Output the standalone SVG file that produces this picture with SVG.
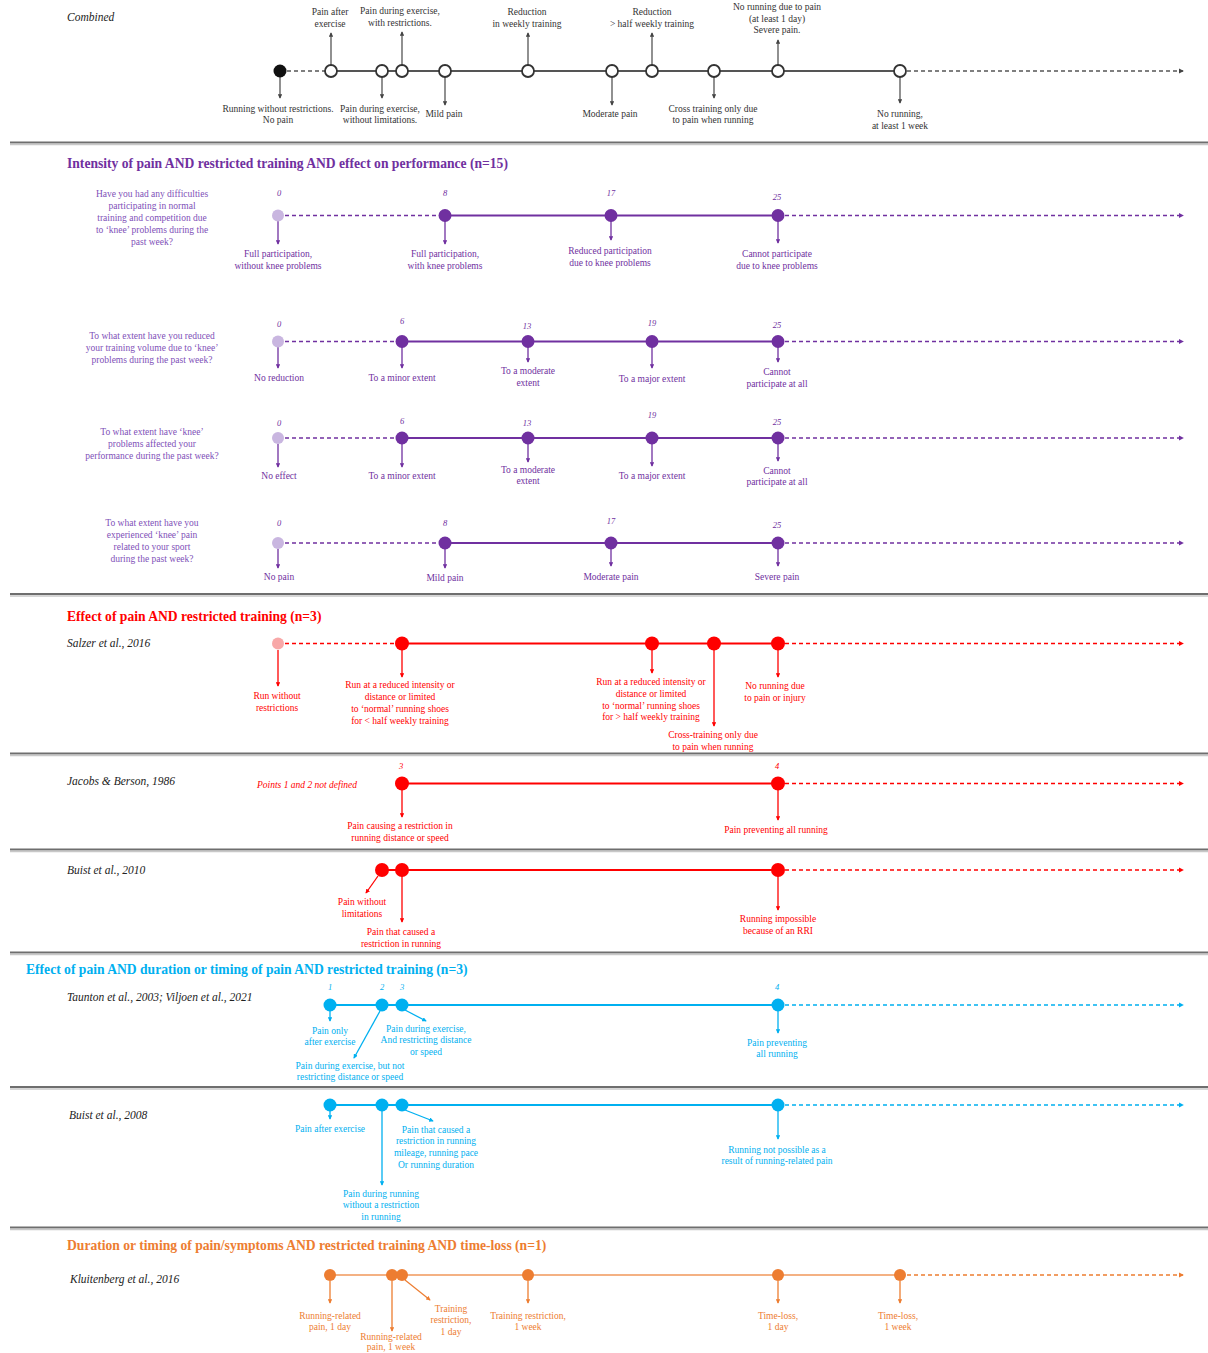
<svg xmlns="http://www.w3.org/2000/svg" width="1208" height="1353" viewBox="0 0 1208 1353">
<style>
text{font-family:"Liberation Serif","Times New Roman",serif}
.l{font-size:9.5px;text-anchor:middle}
.q{font-size:9.5px;text-anchor:middle;fill:#8050B8}
.n{font-size:8.5px;font-style:italic;text-anchor:middle}
.h{font-size:13.6px;font-weight:bold}
.s{font-size:11.5px;font-style:italic;fill:#222}
.k{fill:#333}.p{fill:#7030A0}.r{fill:#FF0000}.b{fill:#00B0F0}.o{fill:#ED7D31}
.sk{stroke:#555}.sp{stroke:#7030A0}.sr{stroke:#FF0000}.sb{stroke:#00B0F0}.so{stroke:#ED7D31}
.ln{stroke-width:2;fill:none}
.ds{stroke-width:1.5;stroke-dasharray:4 3;fill:none}
.ar{stroke-width:1.3;fill:none}
.sep1{stroke:#6e6e6e;stroke-width:2}
.sep2{stroke:#c8c8c8;stroke-width:1.5}
.hol{fill:#fff;stroke:#333;stroke-width:1.8}
</style>
<defs>
<marker id="mk" viewBox="0 0 6 6" refX="5" refY="3" markerWidth="3.5" markerHeight="3.5" orient="auto"><path d="M0,0 L6,3 L0,6 z" fill="#444"/></marker>
<marker id="mp" viewBox="0 0 6 6" refX="5" refY="3" markerWidth="3.5" markerHeight="3.5" orient="auto"><path d="M0,0 L6,3 L0,6 z" fill="#7030A0"/></marker>
<marker id="mr" viewBox="0 0 6 6" refX="5" refY="3" markerWidth="3.5" markerHeight="3.5" orient="auto"><path d="M0,0 L6,3 L0,6 z" fill="#FF0000"/></marker>
<marker id="mb" viewBox="0 0 6 6" refX="5" refY="3" markerWidth="3.5" markerHeight="3.5" orient="auto"><path d="M0,0 L6,3 L0,6 z" fill="#00B0F0"/></marker>
<marker id="mo" viewBox="0 0 6 6" refX="5" refY="3" markerWidth="3.5" markerHeight="3.5" orient="auto"><path d="M0,0 L6,3 L0,6 z" fill="#ED7D31"/></marker>
</defs>
<rect width="1208" height="1353" fill="#fff"/>

<!-- section dividers -->
<g id="dividers">
<line class="sep1" x1="10" y1="142.5" x2="1208" y2="142.5"/><line class="sep2" x1="10" y1="144.5" x2="1208" y2="144.5"/>
<line class="sep1" x1="10" y1="594" x2="1208" y2="594"/><line class="sep2" x1="10" y1="596" x2="1208" y2="596"/>
<line class="sep1" x1="10" y1="753.5" x2="1208" y2="753.5"/><line class="sep2" x1="10" y1="755.5" x2="1208" y2="755.5"/>
<line class="sep1" x1="10" y1="849.5" x2="1208" y2="849.5"/><line class="sep2" x1="10" y1="851.5" x2="1208" y2="851.5"/>
<line class="sep1" x1="10" y1="952.5" x2="1208" y2="952.5"/><line class="sep2" x1="10" y1="954.5" x2="1208" y2="954.5"/>
<line class="sep1" x1="10" y1="1087" x2="1208" y2="1087"/><line class="sep2" x1="10" y1="1089" x2="1208" y2="1089"/>
<line class="sep1" x1="10" y1="1227.5" x2="1208" y2="1227.5"/><line class="sep2" x1="10" y1="1229.5" x2="1208" y2="1229.5"/>
</g>

<!-- headings and row captions -->
<g id="headings">
<text class="s" x="67" y="21">Combined</text>
<text class="h p" x="67" y="168">Intensity of pain AND restricted training AND effect on performance (n=15)</text>
<text class="h r" x="67" y="621">Effect of pain AND restricted training (n=3)</text>
<text class="s" x="67" y="647">Salzer et al., 2016</text>
<text class="s" x="67" y="784.5">Jacobs &amp; Berson, 1986</text>
<text class="l r" x="307" y="788" style="font-style:italic">Points 1 and 2 not defined</text>
<text class="s" x="67" y="874">Buist et al., 2010</text>
<text class="h b" x="26" y="974">Effect of pain AND duration or timing of pain AND restricted training (n=3)</text>
<text class="s" x="67" y="1001">Taunton et al., 2003; Viljoen et al., 2021</text>
<text class="s" x="69" y="1119">Buist et al., 2008</text>
<text class="h o" x="67" y="1250">Duration or timing of pain/symptoms AND restricted training AND time-loss (n=1)</text>
<text class="s" x="70" y="1283">Kluitenberg et al., 2016</text>
</g>

<g id="questions">
<text class="q" x="152" y="197"><tspan x="152">Have you had any difficulties</tspan><tspan x="152" dy="12">participating in normal</tspan><tspan x="152" dy="12">training and competition due</tspan><tspan x="152" dy="12">to ‘knee’ problems during the</tspan><tspan x="152" dy="12">past week?</tspan></text>
<text class="q" x="152" y="338.5"><tspan x="152">To what extent have you reduced</tspan><tspan x="152" dy="12">your training volume due to ‘knee’</tspan><tspan x="152" dy="12">problems during the past week?</tspan></text>
<text class="q" x="152" y="434.5"><tspan x="152">To what extent have ‘knee’</tspan><tspan x="152" dy="12">problems affected your</tspan><tspan x="152" dy="12">performance during the past week?</tspan></text>
<text class="q" x="152" y="525.5"><tspan x="152">To what extent have you</tspan><tspan x="152" dy="12">experienced ‘knee’ pain</tspan><tspan x="152" dy="12">related to your sport</tspan><tspan x="152" dy="12">during the past week?</tspan></text>
</g>

<!-- timelines and pointer lines -->
<g id="connectors">
<!-- combined -->
<line class="sk ds" x1="280" y1="71" x2="331" y2="71"/>
<line class="sk ln" x1="331" y1="71" x2="900" y2="71"/>
<line class="sk ds" x1="900" y1="71" x2="1183" y2="71" marker-end="url(#mk)"/>
<line class="sk ar" x1="331" y1="65" x2="331" y2="33" marker-end="url(#mk)"/>
<line class="sk ar" x1="402" y1="65" x2="402" y2="32" marker-end="url(#mk)"/>
<line class="sk ar" x1="528" y1="65" x2="528" y2="33" marker-end="url(#mk)"/>
<line class="sk ar" x1="652" y1="65" x2="652" y2="33" marker-end="url(#mk)"/>
<line class="sk ar" x1="778" y1="65" x2="778" y2="40" marker-end="url(#mk)"/>
<line class="sk ar" x1="280" y1="77" x2="280" y2="98" marker-end="url(#mk)"/>
<line class="sk ar" x1="382" y1="77" x2="382" y2="98" marker-end="url(#mk)"/>
<line class="sk ar" x1="445" y1="77" x2="445" y2="105" marker-end="url(#mk)"/>
<line class="sk ar" x1="612" y1="77" x2="612" y2="105" marker-end="url(#mk)"/>
<line class="sk ar" x1="714" y1="77" x2="714" y2="98" marker-end="url(#mk)"/>
<line class="sk ar" x1="900" y1="77" x2="900" y2="103" marker-end="url(#mk)"/>
<!-- purple row 1 -->
<line class="sp ds" x1="278" y1="215.5" x2="445" y2="215.5"/>
<line class="sp ln" x1="445" y1="215.5" x2="778" y2="215.5"/>
<line class="sp ds" x1="778" y1="215.5" x2="1183" y2="215.5" marker-end="url(#mp)"/>
<line class="sp ar" x1="278" y1="221" x2="278" y2="244" marker-end="url(#mp)"/>
<line class="sp ar" x1="445" y1="221" x2="445" y2="244" marker-end="url(#mp)"/>
<line class="sp ar" x1="611" y1="221" x2="611" y2="240" marker-end="url(#mp)"/>
<line class="sp ar" x1="778" y1="221" x2="778" y2="243" marker-end="url(#mp)"/>
<!-- purple row 2 -->
<line class="sp ds" x1="278" y1="341.5" x2="402" y2="341.5"/>
<line class="sp ln" x1="402" y1="341.5" x2="778" y2="341.5"/>
<line class="sp ds" x1="778" y1="341.5" x2="1183" y2="341.5" marker-end="url(#mp)"/>
<line class="sp ar" x1="278" y1="347" x2="278" y2="368" marker-end="url(#mp)"/>
<line class="sp ar" x1="402" y1="347" x2="402" y2="368" marker-end="url(#mp)"/>
<line class="sp ar" x1="528" y1="347" x2="528" y2="362" marker-end="url(#mp)"/>
<line class="sp ar" x1="652" y1="347" x2="652" y2="368" marker-end="url(#mp)"/>
<line class="sp ar" x1="778" y1="347" x2="778" y2="362" marker-end="url(#mp)"/>
<!-- purple row 3 -->
<line class="sp ds" x1="278" y1="438" x2="402" y2="438"/>
<line class="sp ln" x1="402" y1="438" x2="778" y2="438"/>
<line class="sp ds" x1="778" y1="438" x2="1183" y2="438" marker-end="url(#mp)"/>
<line class="sp ar" x1="278" y1="444" x2="278" y2="467" marker-end="url(#mp)"/>
<line class="sp ar" x1="402" y1="444" x2="402" y2="467" marker-end="url(#mp)"/>
<line class="sp ar" x1="528" y1="444" x2="528" y2="462" marker-end="url(#mp)"/>
<line class="sp ar" x1="652" y1="444" x2="652" y2="466" marker-end="url(#mp)"/>
<line class="sp ar" x1="778" y1="444" x2="778" y2="461" marker-end="url(#mp)"/>
<!-- purple row 4 -->
<line class="sp ds" x1="278" y1="543" x2="445" y2="543"/>
<line class="sp ln" x1="445" y1="543" x2="778" y2="543"/>
<line class="sp ds" x1="778" y1="543" x2="1183" y2="543" marker-end="url(#mp)"/>
<line class="sp ar" x1="278" y1="549" x2="278" y2="568" marker-end="url(#mp)"/>
<line class="sp ar" x1="445" y1="549" x2="445" y2="568" marker-end="url(#mp)"/>
<line class="sp ar" x1="611" y1="549" x2="611" y2="566" marker-end="url(#mp)"/>
<line class="sp ar" x1="778" y1="549" x2="778" y2="566" marker-end="url(#mp)"/>
<!-- Salzer -->
<line class="sr ds" x1="278" y1="643.5" x2="402" y2="643.5"/>
<line class="sr ln" x1="402" y1="643.5" x2="778" y2="643.5"/>
<line class="sr ds" x1="778" y1="643.5" x2="1183" y2="643.5" marker-end="url(#mr)"/>
<line class="sr ar" x1="278" y1="650" x2="278" y2="686" marker-end="url(#mr)"/>
<line class="sr ar" x1="402" y1="650" x2="402" y2="677" marker-end="url(#mr)"/>
<line class="sr ar" x1="652" y1="650" x2="652" y2="673" marker-end="url(#mr)"/>
<line class="sr ar" x1="714" y1="650" x2="714" y2="726" marker-end="url(#mr)"/>
<line class="sr ar" x1="778" y1="650" x2="778" y2="677" marker-end="url(#mr)"/>
<!-- Jacobs & Berson -->
<line class="sr ln" x1="402" y1="783.5" x2="778" y2="783.5"/>
<line class="sr ds" x1="778" y1="783.5" x2="1183" y2="783.5" marker-end="url(#mr)"/>
<line class="sr ar" x1="402" y1="790" x2="402" y2="817" marker-end="url(#mr)"/>
<line class="sr ar" x1="778" y1="790" x2="778" y2="820" marker-end="url(#mr)"/>
<!-- Buist 2010 -->
<line class="sr ln" x1="382" y1="870" x2="778" y2="870"/>
<line class="sr ds" x1="778" y1="870" x2="1183" y2="870" marker-end="url(#mr)"/>
<line class="sr ar" x1="378" y1="876" x2="366" y2="893" marker-end="url(#mr)"/>
<line class="sr ar" x1="402" y1="876" x2="402" y2="922" marker-end="url(#mr)"/>
<line class="sr ar" x1="778" y1="876" x2="778" y2="910" marker-end="url(#mr)"/>
<!-- Taunton / Viljoen -->
<line class="sb ln" x1="330" y1="1005" x2="778" y2="1005"/>
<line class="sb ds" x1="778" y1="1005" x2="1183" y2="1005" marker-end="url(#mb)"/>
<line class="sb ar" x1="330" y1="1011" x2="330" y2="1021" marker-end="url(#mb)"/>
<line class="sb ar" x1="405" y1="1010" x2="426" y2="1021" marker-end="url(#mb)"/>
<line class="sb ar" x1="380" y1="1011" x2="354" y2="1058" marker-end="url(#mb)"/>
<line class="sb ar" x1="778" y1="1011" x2="778" y2="1033" marker-end="url(#mb)"/>
<!-- Buist 2008 -->
<line class="sb ln" x1="330" y1="1105" x2="778" y2="1105"/>
<line class="sb ds" x1="778" y1="1105" x2="1183" y2="1105" marker-end="url(#mb)"/>
<line class="sb ar" x1="330" y1="1111" x2="330" y2="1119" marker-end="url(#mb)"/>
<line class="sb ar" x1="405" y1="1110" x2="433" y2="1121" marker-end="url(#mb)"/>
<line class="sb ar" x1="382" y1="1111" x2="382" y2="1185" marker-end="url(#mb)"/>
<line class="sb ar" x1="778" y1="1111" x2="778" y2="1139" marker-end="url(#mb)"/>
<!-- Kluitenberg -->
<line class="ln" stroke="#F4B183" x1="330" y1="1275" x2="900" y2="1275"/>
<line class="so ds" x1="900" y1="1275" x2="1183" y2="1275" marker-end="url(#mo)"/>
<line class="so ar" x1="330" y1="1281" x2="330" y2="1303" marker-end="url(#mo)"/>
<line class="so ar" x1="392" y1="1281" x2="392" y2="1331" marker-end="url(#mo)"/>
<line class="so ar" x1="405" y1="1280" x2="430" y2="1300" marker-end="url(#mo)"/>
<line class="so ar" x1="528" y1="1281" x2="528" y2="1303" marker-end="url(#mo)"/>
<line class="so ar" x1="778" y1="1281" x2="778" y2="1303" marker-end="url(#mo)"/>
<line class="so ar" x1="900" y1="1281" x2="900" y2="1303" marker-end="url(#mo)"/>
</g>

<!-- combined scale -->
<g id="c-run-free"><circle cx="280" cy="71" r="6.5" fill="#111"/><text class="l k" x="278" y="111.5"><tspan x="278">Running without restrictions.</tspan><tspan x="278" dy="11.7">No pain</tspan></text></g>
<g id="c-pain-after"><circle class="hol" cx="331" cy="71" r="6"/><text class="l k" x="330" y="15"><tspan x="330">Pain after</tspan><tspan x="330" dy="12">exercise</tspan></text></g>
<g id="c-pain-nolimit"><circle class="hol" cx="382" cy="71" r="6"/><text class="l k" x="380" y="111.5"><tspan x="380">Pain during exercise,</tspan><tspan x="380" dy="11.7">without limitations.</tspan></text></g>
<g id="c-pain-restrict"><circle class="hol" cx="402" cy="71" r="6"/><text class="l k" x="400" y="13.5"><tspan x="400">Pain during exercise,</tspan><tspan x="400" dy="12">with restrictions.</tspan></text></g>
<g id="c-mild"><circle class="hol" cx="445" cy="71" r="6"/><text class="l k" x="444" y="116.5">Mild pain</text></g>
<g id="c-reduction"><circle class="hol" cx="528" cy="71" r="6"/><text class="l k" x="527" y="15"><tspan x="527">Reduction</tspan><tspan x="527" dy="12">in weekly training</tspan></text></g>
<g id="c-moderate"><circle class="hol" cx="612" cy="71" r="6"/><text class="l k" x="610" y="116.5">Moderate pain</text></g>
<g id="c-half"><circle class="hol" cx="652" cy="71" r="6"/><text class="l k" x="652" y="15"><tspan x="652">Reduction</tspan><tspan x="652" dy="12">&gt; half weekly training</tspan></text></g>
<g id="c-cross"><circle class="hol" cx="714" cy="71" r="6"/><text class="l k" x="713" y="111.5"><tspan x="713">Cross training only due</tspan><tspan x="713" dy="11.7">to pain when running</tspan></text></g>
<g id="c-no-run-day"><circle class="hol" cx="778" cy="71" r="6"/><text class="l k" x="777" y="10"><tspan x="777">No running due to pain</tspan><tspan x="777" dy="11.7">(at least 1 day)</tspan><tspan x="777" dy="11.7">Severe pain.</tspan></text></g>
<g id="c-no-run-week"><circle class="hol" cx="900" cy="71" r="6"/><text class="l k" x="900" y="116.5"><tspan x="900">No running,</tspan><tspan x="900" dy="12">at least 1 week</tspan></text></g>

<!-- question 1 -->
<g id="q1-0"><circle cx="278" cy="215.5" r="6" fill="#C9B6E0"/><text class="n p" x="279" y="196">0</text><text class="l p" x="278" y="256.5"><tspan x="278">Full participation,</tspan><tspan x="278" dy="12">without knee problems</tspan></text></g>
<g id="q1-8"><circle cx="445" cy="215.5" r="6.5" fill="#7030A0"/><text class="n p" x="445" y="196">8</text><text class="l p" x="445" y="256.5"><tspan x="445">Full participation,</tspan><tspan x="445" dy="12">with knee problems</tspan></text></g>
<g id="q1-17"><circle cx="611" cy="215.5" r="6.5" fill="#7030A0"/><text class="n p" x="611" y="196">17</text><text class="l p" x="610" y="253.5"><tspan x="610">Reduced participation</tspan><tspan x="610" dy="12">due to knee problems</tspan></text></g>
<g id="q1-25"><circle cx="778" cy="215.5" r="6.5" fill="#7030A0"/><text class="n p" x="777" y="200">25</text><text class="l p" x="777" y="256.5"><tspan x="777">Cannot participate</tspan><tspan x="777" dy="12">due to knee problems</tspan></text></g>

<!-- question 2 -->
<g id="q2-0"><circle cx="278" cy="341.5" r="6" fill="#C9B6E0"/><text class="n p" x="279" y="326.5">0</text><text class="l p" x="279" y="380.5">No reduction</text></g>
<g id="q2-6"><circle cx="402" cy="341.5" r="6.5" fill="#7030A0"/><text class="n p" x="402" y="324">6</text><text class="l p" x="402" y="380.5">To a minor extent</text></g>
<g id="q2-13"><circle cx="528" cy="341.5" r="6.5" fill="#7030A0"/><text class="n p" x="527" y="329">13</text><text class="l p" x="528" y="374"><tspan x="528">To a moderate</tspan><tspan x="528" dy="11.5">extent</tspan></text></g>
<g id="q2-19"><circle cx="652" cy="341.5" r="6.5" fill="#7030A0"/><text class="n p" x="652" y="326">19</text><text class="l p" x="652" y="382">To a major extent</text></g>
<g id="q2-25"><circle cx="778" cy="341.5" r="6.5" fill="#7030A0"/><text class="n p" x="777" y="328">25</text><text class="l p" x="777" y="375"><tspan x="777">Cannot</tspan><tspan x="777" dy="11.7">participate at all</tspan></text></g>

<!-- question 3 -->
<g id="q3-0"><circle cx="278" cy="438" r="6" fill="#C9B6E0"/><text class="n p" x="279" y="426">0</text><text class="l p" x="279" y="479">No effect</text></g>
<g id="q3-6"><circle cx="402" cy="438" r="6.5" fill="#7030A0"/><text class="n p" x="402" y="424">6</text><text class="l p" x="402" y="479">To a minor extent</text></g>
<g id="q3-13"><circle cx="528" cy="438" r="6.5" fill="#7030A0"/><text class="n p" x="527" y="426">13</text><text class="l p" x="528" y="472.5"><tspan x="528">To a moderate</tspan><tspan x="528" dy="11.7">extent</tspan></text></g>
<g id="q3-19"><circle cx="652" cy="438" r="6.5" fill="#7030A0"/><text class="n p" x="652" y="418">19</text><text class="l p" x="652" y="479">To a major extent</text></g>
<g id="q3-25"><circle cx="778" cy="438" r="6.5" fill="#7030A0"/><text class="n p" x="777" y="425">25</text><text class="l p" x="777" y="473.5"><tspan x="777">Cannot</tspan><tspan x="777" dy="11.7">participate at all</tspan></text></g>

<!-- question 4 -->
<g id="q4-0"><circle cx="278" cy="543" r="6" fill="#C9B6E0"/><text class="n p" x="279" y="526">0</text><text class="l p" x="279" y="580">No pain</text></g>
<g id="q4-8"><circle cx="445" cy="543" r="6.5" fill="#7030A0"/><text class="n p" x="445" y="526">8</text><text class="l p" x="445" y="581">Mild pain</text></g>
<g id="q4-17"><circle cx="611" cy="543" r="6.5" fill="#7030A0"/><text class="n p" x="611" y="524">17</text><text class="l p" x="611" y="580">Moderate pain</text></g>
<g id="q4-25"><circle cx="778" cy="543" r="6.5" fill="#7030A0"/><text class="n p" x="777" y="528">25</text><text class="l p" x="777" y="580">Severe pain</text></g>

<!-- Salzer et al. -->
<g id="s-free"><circle cx="278" cy="643.5" r="6" fill="#F8A8A8"/><text class="l r" x="277" y="698.5"><tspan x="277">Run without</tspan><tspan x="277" dy="12">restrictions</tspan></text></g>
<g id="s-less-half"><circle cx="402" cy="643.5" r="7" fill="#FF0000"/><text class="l r" x="400" y="687.5"><tspan x="400">Run at a reduced intensity or</tspan><tspan x="400" dy="12">distance or limited</tspan><tspan x="400" dy="12">to ‘normal’ running shoes</tspan><tspan x="400" dy="12">for &lt; half weekly training</tspan></text></g>
<g id="s-more-half"><circle cx="652" cy="643.5" r="7" fill="#FF0000"/><text class="l r" x="651" y="685"><tspan x="651">Run at a reduced intensity or</tspan><tspan x="651" dy="11.8">distance or limited</tspan><tspan x="651" dy="11.8">to ‘normal’ running shoes</tspan><tspan x="651" dy="11.8">for &gt; half weekly training</tspan></text></g>
<g id="s-cross"><circle cx="714" cy="643.5" r="7" fill="#FF0000"/><text class="l r" x="713" y="738"><tspan x="713">Cross-training only due</tspan><tspan x="713" dy="12">to pain when running</tspan></text></g>
<g id="s-no-run"><circle cx="778" cy="643.5" r="7" fill="#FF0000"/><text class="l r" x="775" y="688.5"><tspan x="775">No running due</tspan><tspan x="775" dy="12">to pain or injury</tspan></text></g>

<!-- Jacobs & Berson -->
<g id="j-3"><circle cx="402" cy="783.5" r="7" fill="#FF0000"/><text class="n r" x="401" y="769">3</text><text class="l r" x="400" y="828.5"><tspan x="400">Pain causing a restriction in</tspan><tspan x="400" dy="12">running distance or speed</tspan></text></g>
<g id="j-4"><circle cx="778" cy="783.5" r="7" fill="#FF0000"/><text class="n r" x="777" y="769">4</text><text class="l r" x="776" y="832.5">Pain preventing all running</text></g>

<!-- Buist 2010 -->
<g id="b10-nolimit"><circle cx="382" cy="870" r="7" fill="#FF0000"/><text class="l r" x="362" y="905"><tspan x="362">Pain without</tspan><tspan x="362" dy="11.8">limitations</tspan></text></g>
<g id="b10-restrict"><circle cx="402" cy="870" r="7" fill="#FF0000"/><text class="l r" x="401" y="935"><tspan x="401">Pain that caused a</tspan><tspan x="401" dy="11.8">restriction in running</tspan></text></g>
<g id="b10-rri"><circle cx="778" cy="870" r="7" fill="#FF0000"/><text class="l r" x="778" y="921.5"><tspan x="778">Running impossible</tspan><tspan x="778" dy="12">because of an RRI</tspan></text></g>

<!-- Taunton / Viljoen -->
<g id="t-1"><circle cx="330" cy="1005" r="6.5" fill="#00B0F0"/><text class="n b" x="330" y="990">1</text><text class="l b" x="330" y="1033.5"><tspan x="330">Pain only</tspan><tspan x="330" dy="11.7">after exercise</tspan></text></g>
<g id="t-2"><circle cx="382" cy="1005" r="6.5" fill="#00B0F0"/><text class="n b" x="382" y="990">2</text><text class="l b" x="350" y="1068.5"><tspan x="350">Pain during exercise, but not</tspan><tspan x="350" dy="11.7">restricting distance or speed</tspan></text></g>
<g id="t-3"><circle cx="402" cy="1005" r="6.5" fill="#00B0F0"/><text class="n b" x="402" y="990">3</text><text class="l b" x="426" y="1031.5"><tspan x="426">Pain during exercise,</tspan><tspan x="426" dy="11.7">And restricting distance</tspan><tspan x="426" dy="11.7">or speed</tspan></text></g>
<g id="t-4"><circle cx="778" cy="1005" r="6.5" fill="#00B0F0"/><text class="n b" x="777" y="990">4</text><text class="l b" x="777" y="1045.5"><tspan x="777">Pain preventing</tspan><tspan x="777" dy="11.7">all running</tspan></text></g>

<!-- Buist 2008 -->
<g id="b08-after"><circle cx="330" cy="1105" r="6.5" fill="#00B0F0"/><text class="l b" x="330" y="1131.5">Pain after exercise</text></g>
<g id="b08-during"><circle cx="382" cy="1105" r="6.5" fill="#00B0F0"/><text class="l b" x="381" y="1196.5"><tspan x="381">Pain during running</tspan><tspan x="381" dy="11.8">without a restriction</tspan><tspan x="381" dy="11.8">in running</tspan></text></g>
<g id="b08-restrict"><circle cx="402" cy="1105" r="6.5" fill="#00B0F0"/><text class="l b" x="436" y="1132.5"><tspan x="436">Pain that caused a</tspan><tspan x="436" dy="11.8">restriction  in running</tspan><tspan x="436" dy="11.8">mileage, running pace</tspan><tspan x="436" dy="11.8">Or running duration</tspan></text></g>
<g id="b08-none"><circle cx="778" cy="1105" r="6.5" fill="#00B0F0"/><text class="l b" x="777" y="1152.5"><tspan x="777">Running not possible as a</tspan><tspan x="777" dy="11.8">result of running-related pain</tspan></text></g>

<!-- Kluitenberg et al. -->
<g id="k-pain-day"><circle cx="330" cy="1275" r="6" fill="#ED7D31"/><text class="l o" x="330" y="1318.5"><tspan x="330">Running-related</tspan><tspan x="330" dy="11.8">pain, 1 day</tspan></text></g>
<g id="k-pain-week"><circle cx="392" cy="1275" r="6" fill="#ED7D31"/><text class="l o" x="391" y="1339.5"><tspan x="391">Running-related</tspan><tspan x="391" dy="10.5">pain, 1 week</tspan></text></g>
<g id="k-restr-day"><circle cx="402" cy="1275" r="6" fill="#ED7D31"/><text class="l o" x="451" y="1311.5"><tspan x="451">Training</tspan><tspan x="451" dy="11.8">restriction,</tspan><tspan x="451" dy="11.8">1 day</tspan></text></g>
<g id="k-restr-week"><circle cx="528" cy="1275" r="6" fill="#ED7D31"/><text class="l o" x="528" y="1318.5"><tspan x="528">Training restriction,</tspan><tspan x="528" dy="11.8">1 week</tspan></text></g>
<g id="k-loss-day"><circle cx="778" cy="1275" r="6" fill="#ED7D31"/><text class="l o" x="778" y="1318.5"><tspan x="778">Time-loss,</tspan><tspan x="778" dy="11.8">1 day</tspan></text></g>
<g id="k-loss-week"><circle cx="900" cy="1275" r="6" fill="#ED7D31"/><text class="l o" x="898" y="1318.5"><tspan x="898">Time-loss,</tspan><tspan x="898" dy="11.8">1 week</tspan></text></g>
</svg>
